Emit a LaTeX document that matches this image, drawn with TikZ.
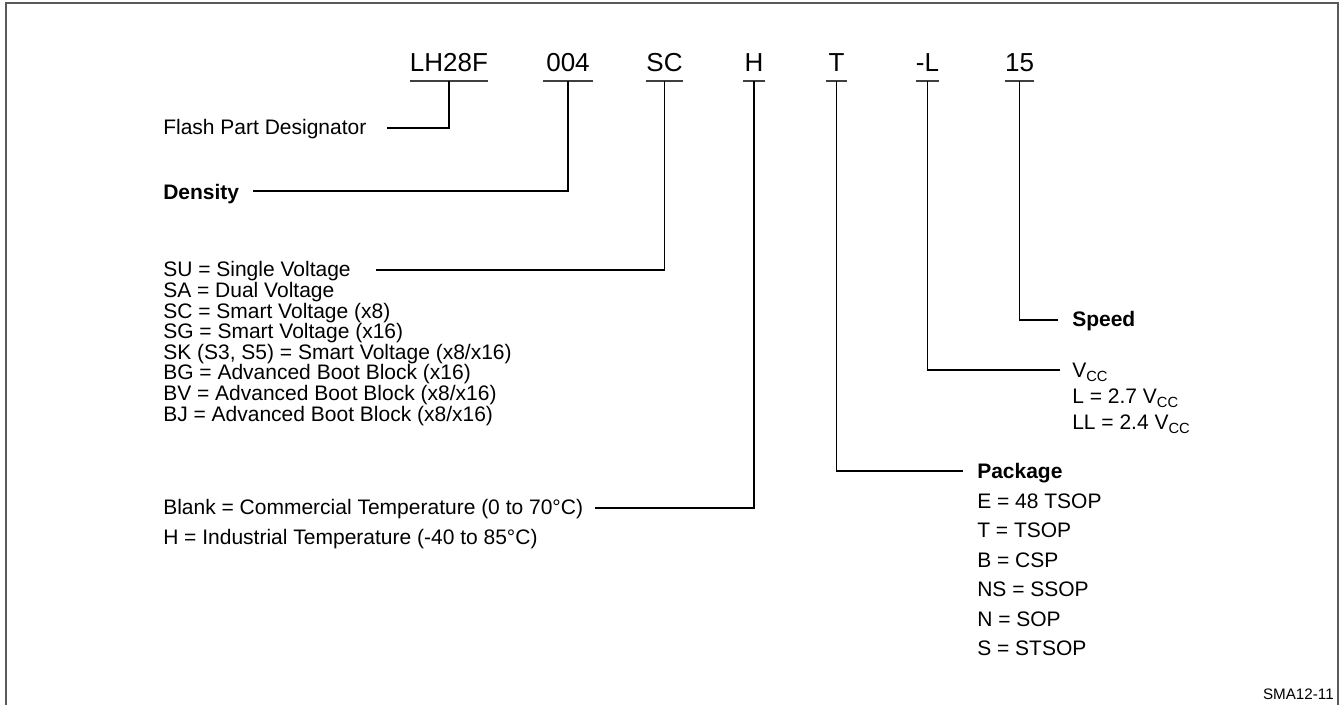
\documentclass[tikz,border=0pt]{standalone}
\usepackage{fontspec}
\setmainfont{Liberation Sans}
\usetikzlibrary{calc}
\begin{document}
\begin{tikzpicture}[x=0.75pt,y=-0.75pt,
  code/.style={font=\fontsize{19.5}{22}\selectfont, inner sep=0pt, anchor=base},
  lbl/.style={font=\fontsize{15.75}{19}\selectfont, inner sep=0pt, anchor=base west},
  blbl/.style={lbl, font=\fontsize{15.75}{19}\selectfont\bfseries},
  conn/.style={line width=0.9pt},
  uline/.style={line width=1.6pt, draw=black!75},
  frame/.style={line width=1.6pt, draw=black!65}]
\useasboundingbox (0,0) rectangle (1343,705);
\draw[frame] (6,705) -- (6,3) -- (1338,3) -- (1338,705);

% part number fields
\node[code, minimum width=78*0.75pt] (c1) at (449,72) {LH28F};
\node[code, minimum width=49*0.75pt] (c2) at (568,72) {004};
\node[code, minimum width=35*0.75pt] (c3) at (664.5,72) {SC};
\node[code, minimum width=21*0.75pt] (c4) at (754,72) {H};
\node[code, minimum width=21*0.75pt] (c5) at (836.5,72) {T};
\node[code, minimum width=21*0.75pt] (c6) at (927.5,72) {-L};
\node[code, minimum width=21*0.75pt] (c7) at (1019.5,72) {15};
\foreach \i in {1,...,7}{
  \draw[uline] ($(c\i.base west)+(0,9)$) -- ($(c\i.base east)+(0,9)$);
  \coordinate (u\i) at ($(c\i.base)+(0,9)$);
}

% left labels
\node[lbl] (flash) at (163,135) {Flash Part Designator};
\node[blbl] (dens) at (163,200) {Density};
\node[lbl] (su) at (163,277) {SU = Single Voltage};
\node[lbl] (sa) at (163,297.6) {SA = Dual Voltage};
\node[lbl] (sc) at (163,318.2) {SC = Smart Voltage (x8)};
\node[lbl] (sg) at (163,338.8) {SG = Smart Voltage (x16)};
\node[lbl] (sk) at (163,359.4) {SK (S3, S5) = Smart Voltage (x8/x16)};
\node[lbl] (bg) at (163,380) {BG = Advanced Boot Block (x16)};
\node[lbl] (bv) at (163,400.6) {BV = Advanced Boot Block (x8/x16)};
\node[lbl] (bj) at (163,421.2) {BJ = Advanced Boot Block (x8/x16)};
\node[lbl] (blank) at (163,515) {Blank = Commercial Temperature (0 to 70°C)};
\node[lbl] (ind) at (163,545) {H = Industrial Temperature (-40 to 85°C)};

% right labels
\node[blbl] (speed) at (1072,327) {Speed};
\node[lbl] (vcc) at (1072,378) {V\textsubscript{CC}};
\node[lbl] (l27) at (1072,404) {L = 2.7 V\textsubscript{CC}};
\node[lbl] (l24) at (1072,430) {LL = 2.4 V\textsubscript{CC}};
\node[blbl] (pkg) at (977,479) {Package};
\node[lbl] (p1) at (977,508.5) {E = 48 TSOP};
\node[lbl] (p2) at (977,538) {T = TSOP};
\node[lbl] (p3) at (977,567.5) {B = CSP};
\node[lbl] (p4) at (977,597) {NS = SSOP};
\node[lbl] (p5) at (977,626.5) {N = SOP};
\node[lbl] (p6) at (977,656) {S = STSOP};

\node[font=\fontsize{11.4}{13}\selectfont, inner sep=0pt, anchor=base east] (sma) at (1334,700) {SMA12-11};

% connectors
\draw[conn] (u1) |- ($(flash.base east)+(20,-7)$);
\draw[conn] (u2) |- ($(dens.base east)+(14,-9)$);
\draw[conn] (u3) |- ($(su.base east)+(25,-7)$);
\draw[conn] (u4) |- ($(blank.base east)+(12,-7)$);
\draw[conn] (u5) |- ($(pkg.base west)+(-14,-8)$);
\draw[conn] (u6) |- ($(vcc.base west)+(-12,-8)$);
\draw[conn] (u7) |- ($(speed.base west)+(-14,-7)$);
\end{tikzpicture}
\end{document}
